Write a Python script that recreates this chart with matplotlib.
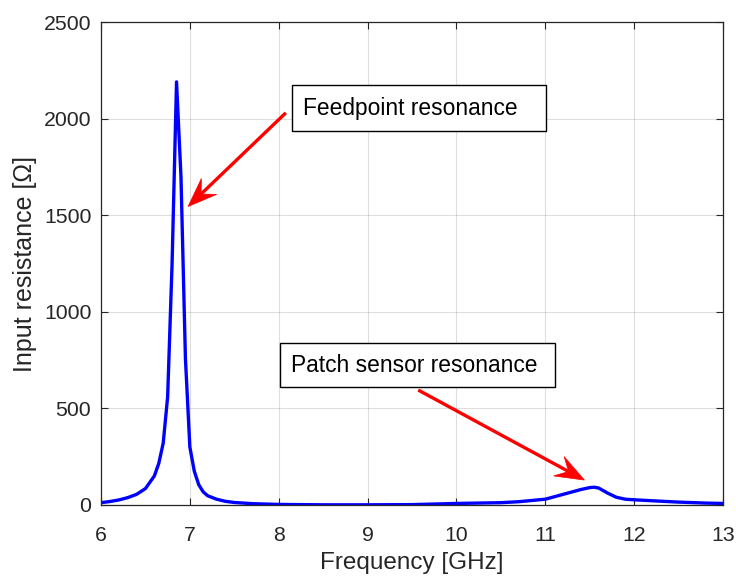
import numpy as np
import matplotlib
matplotlib.use("Agg")
import matplotlib.pyplot as plt
from matplotlib.patches import Polygon, Rectangle
from matplotlib.transforms import IdentityTransform

plt.rcParams['font.family'] = ['Liberation Sans', 'DejaVu Sans']

# ---- data ----
freq_ghz = [6.0, 6.1, 6.2, 6.3, 6.4, 6.5, 6.6, 6.65, 6.7, 6.75, 6.8, 6.85,
            6.9, 6.95, 7.0, 7.05, 7.1, 7.15, 7.2, 7.3, 7.4, 7.5, 7.7, 8.0,
            8.5, 9.0, 9.5, 10.0, 10.5, 10.7, 11.0, 11.2, 11.4, 11.5, 11.55,
            11.6, 11.7, 11.8, 11.9, 12.0, 12.2, 12.5, 12.8, 13.0]
resistance = [12, 18, 26, 38, 55, 85, 150, 215, 320, 560, 1250, 2190,
              1700, 760, 300, 175, 105, 68, 48, 30, 19, 13, 7, 3,
              1, 1, 2, 8, 12, 17, 30, 55, 80, 90, 92,
              88, 62, 40, 30, 27, 22, 15, 10, 8]

x_ticks = [6, 7, 8, 9, 10, 11, 12, 13]
y_ticks = [0, 500, 1000, 1500, 2000, 2500]

annotations = [
    # text, tail (GHz, Ohm), tip (GHz, Ohm), box in figure px (x0, y0, x1, y1)
    ("Feedpoint resonance", (8.08, 2030), (6.98, 1545), (292, 85, 546, 131)),
    ("Patch sensor resonance", (9.57, 595), (11.44, 129), (280, 343, 555, 387)),
]

W, H = 736, 577
fig = plt.figure(figsize=(W / 100, H / 100), dpi=100)
ax = fig.add_axes([101 / W, 1 - 505 / H, (723 - 101) / W, (505 - 22) / H])

ax.plot(freq_ghz, resistance, color=(0, 0, 1), lw=2.4, solid_joinstyle='round')
ax.set_xlim(6, 13)
ax.set_ylim(0, 2500)
ax.set_xticks(x_ticks)
ax.set_yticks(y_ticks)
ax.grid(True, color='#262626', alpha=0.15, lw=0.8)
ax.set_axisbelow(True)
ax.tick_params(direction='in', length=5, width=0.8, top=True, right=True,
               labelsize=15.3, colors='#262626')
ax.tick_params(axis='x', pad=15)
ax.tick_params(axis='y', pad=7)
for s in ax.spines.values():
    s.set_color('#262626')
    s.set_linewidth(0.9)
ax.set_xlabel("Frequency [GHz]", fontsize=17.5, color='#262626', labelpad=5)
ax.set_ylabel("Input resistance [Ω]", fontsize=18, color='#262626', labelpad=5)

def px2fig(x, y):
    return x / W, 1 - y / H

for text, tail, tip, box in annotations:
    # box
    x0, y0, x1, y1 = box
    fx0, fy1 = px2fig(x0, y1)
    fx1, fy0 = px2fig(x1, y0)
    fig.add_artist(Rectangle((fx0, fy1), fx1 - fx0, fy0 - fy1, transform=fig.transFigure,
                             facecolor='white', edgecolor='black', lw=1.0, zorder=5))
    tx, ty = px2fig(x0 + 11, (y0 + y1) / 2)
    fig.text(tx, ty, text, fontsize=16.4, color='black', ha='left', va='center', zorder=6)
    # arrow
    p_tail = ax.transData.transform(tail)
    p_tip = ax.transData.transform(tip)
    d = p_tip - p_tail
    u = d / np.hypot(*d)
    n = np.array([-u[1], u[0]])
    L, Wd = 29.0, 22.0
    notch = p_tip - 0.62 * L * u
    shaft = Polygon([p_tail, notch], closed=False, transform=IdentityTransform(),
                    fill=False, edgecolor=(1, 0, 0), lw=2.4, zorder=7)
    fig.add_artist(shaft)
    head = Polygon([p_tip, p_tip - L * u + Wd / 2 * n, notch, p_tip - L * u - Wd / 2 * n],
                   closed=True, transform=IdentityTransform(), facecolor=(1, 0, 0),
                   edgecolor=(1, 0, 0), lw=0.5, zorder=7)
    fig.add_artist(head)

fig.savefig("out.png", dpi=100)
